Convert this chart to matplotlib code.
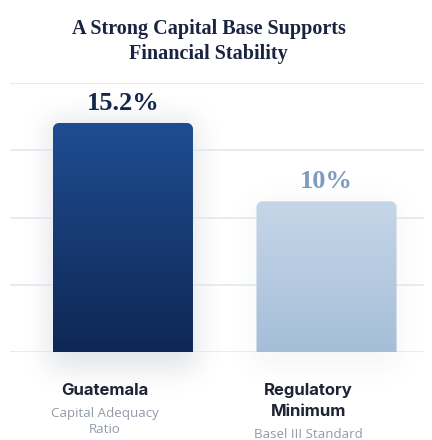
import numpy as np
import matplotlib.pyplot as plt
from matplotlib.path import Path
from matplotlib.patches import PathPatch
from matplotlib.colors import LinearSegmentedColormap
import matplotlib.transforms as mtransforms

# Data
categories = ['Guatemala', 'Regulatory\nMinimum']
subtitles = ['Capital Adequacy\nRatio', 'Basel III Standard']
values = [15.2, 10.0]
value_labels = ['15.2%', '10%']

top_colors = ['#1f4d91', '#c6d6e8']
bottom_colors = ['#0e2754', '#a5bed8']
label_colors = ['#16264a', '#7f9bc0']
shadow_alpha = [0.16, 0.05]

W, H = 432, 440
fig = plt.figure(figsize=(W / 100, H / 100), dpi=100)
fig.patch.set_facecolor('white')

ax = fig.add_axes([10 / W, 88 / H, 414 / W, 269 / H])
ax.patch.set_alpha(0)
ymax = 15.2 * 269 / 229
ax.set_ylim(0, ymax)
ax.set_xlim(-0.555, 1.479)
for s in ax.spines.values():
    s.set_visible(False)
ax.set_xticks([])
ax.set_yticks([])

# decorative grid lines
for g in np.linspace(0, ymax, 5):
    ax.axhline(g, color='#dfe5ef', lw=1.1, zorder=0)

bar_w = 0.688


def rounded_top(x0, x1, y0, y1, rx, ry):
    k = 0.5523
    verts = [(x0, y0), (x0, y1 - ry),
             (x0, y1 - ry + k * ry), (x0 + rx - k * rx, y1), (x0 + rx, y1),
             (x1 - rx, y1),
             (x1 - rx + k * rx, y1), (x1, y1 - ry + k * ry), (x1, y1 - ry),
             (x1, y0), (x0, y0)]
    codes = [Path.MOVETO, Path.LINETO,
             Path.CURVE4, Path.CURVE4, Path.CURVE4,
             Path.LINETO,
             Path.CURVE4, Path.CURVE4, Path.CURVE4,
             Path.LINETO, Path.CLOSEPOLY]
    return Path(verts, codes)


# soft shadows behind bars, built in pixel space
fig.canvas.draw()
bg = fig.add_axes([0, 0, 1, 1], zorder=-1)
bg.set_xlim(0, W)
bg.set_ylim(0, H)
bg.axis('off')
yy, xx = np.mgrid[0:H, 0:W]
shadow = np.zeros((H, W))


def blur(a, sigma):
    r = int(3 * sigma)
    k = np.exp(-0.5 * (np.arange(-r, r + 1) / sigma) ** 2)
    k /= k.sum()
    a = np.apply_along_axis(lambda m: np.convolve(m, k, mode='same'), 0, a)
    a = np.apply_along_axis(lambda m: np.convolve(m, k, mode='same'), 1, a)
    return a


for i, v in enumerate(values):
    (px0, py0) = ax.transData.transform((i - bar_w / 2, 0))
    (px1, py1) = ax.transData.transform((i + bar_w / 2, v))
    m = ((xx >= px0 - 4) & (xx <= px1 + 4) &
         (yy >= py0 - 18) & (yy <= py1 + 2)).astype(float)
    shadow = np.maximum(shadow, blur(m, 13) * shadow_alpha[i])

rgba = np.zeros((H, W, 4))
rgba[..., :3] = np.array([0.32, 0.36, 0.46])
rgba[..., 3] = np.clip(shadow, 0, 1)
bg.imshow(rgba, extent=(0, W, 0, H), origin='lower', interpolation='bilinear')

# gradient bars with rounded tops
rx = 6 / (ax.transData.transform((1, 0))[0] - ax.transData.transform((0, 0))[0])
ry = 6 / (ax.transData.transform((0, 1))[1] - ax.transData.transform((0, 0))[1])
grad = np.linspace(0, 1, 256).reshape(-1, 1)
for i, v in enumerate(values):
    x0, x1 = i - bar_w / 2, i + bar_w / 2
    cmap = LinearSegmentedColormap.from_list('b%d' % i, [bottom_colors[i], top_colors[i]])
    im = ax.imshow(grad, cmap=cmap, extent=(x0, x1, 0, v), origin='lower',
                   aspect='auto', zorder=2)
    patch = PathPatch(rounded_top(x0, x1, 0, v, rx, ry), facecolor='none',
                      edgecolor='none', transform=ax.transData)
    ax.add_patch(patch)
    im.set_clip_path(patch)
    ax.annotate(value_labels[i], (i, v), xytext=(0, 6), textcoords='offset points',
                ha='center', va='bottom', fontsize=19, fontweight='bold',
                family='Liberation Serif', color=label_colors[i], zorder=3)

ax.set_xlim(-0.555, 1.479)
ax.set_ylim(0, ymax)

# category labels below the plot, one line at a time (baseline in px from top)
shift = mtransforms.ScaledTranslation(-18 / 100, 0, fig.dpi_scale_trans)
tr = mtransforms.blended_transform_factory(ax.transData, fig.transFigure) + shift
for i, (c, s) in enumerate(zip(categories, subtitles)):
    y = 395
    for line in c.split('\n'):
        ax.text(i, 1 - y / H, line, transform=tr, ha='center', va='baseline',
                fontsize=12, fontweight='bold', family='Inter', color='#1f2433')
        y += 21
    y += 1
    for line in s.split('\n'):
        ax.text(i, 1 - y / H, line, transform=tr, ha='center', va='baseline',
                fontsize=9.6, family='Open Sans', color='#939aa8')
        y += 16

fig.text(208.5 / W, 1 - 19 / H, 'A Strong Capital Base Supports\nFinancial Stability',
         ha='center', va='top', fontsize=14.5, fontweight='bold',
         family='Liberation Serif', color='#1a2340', linespacing=1.35)

fig.savefig('out.png', dpi=100, facecolor='white')
